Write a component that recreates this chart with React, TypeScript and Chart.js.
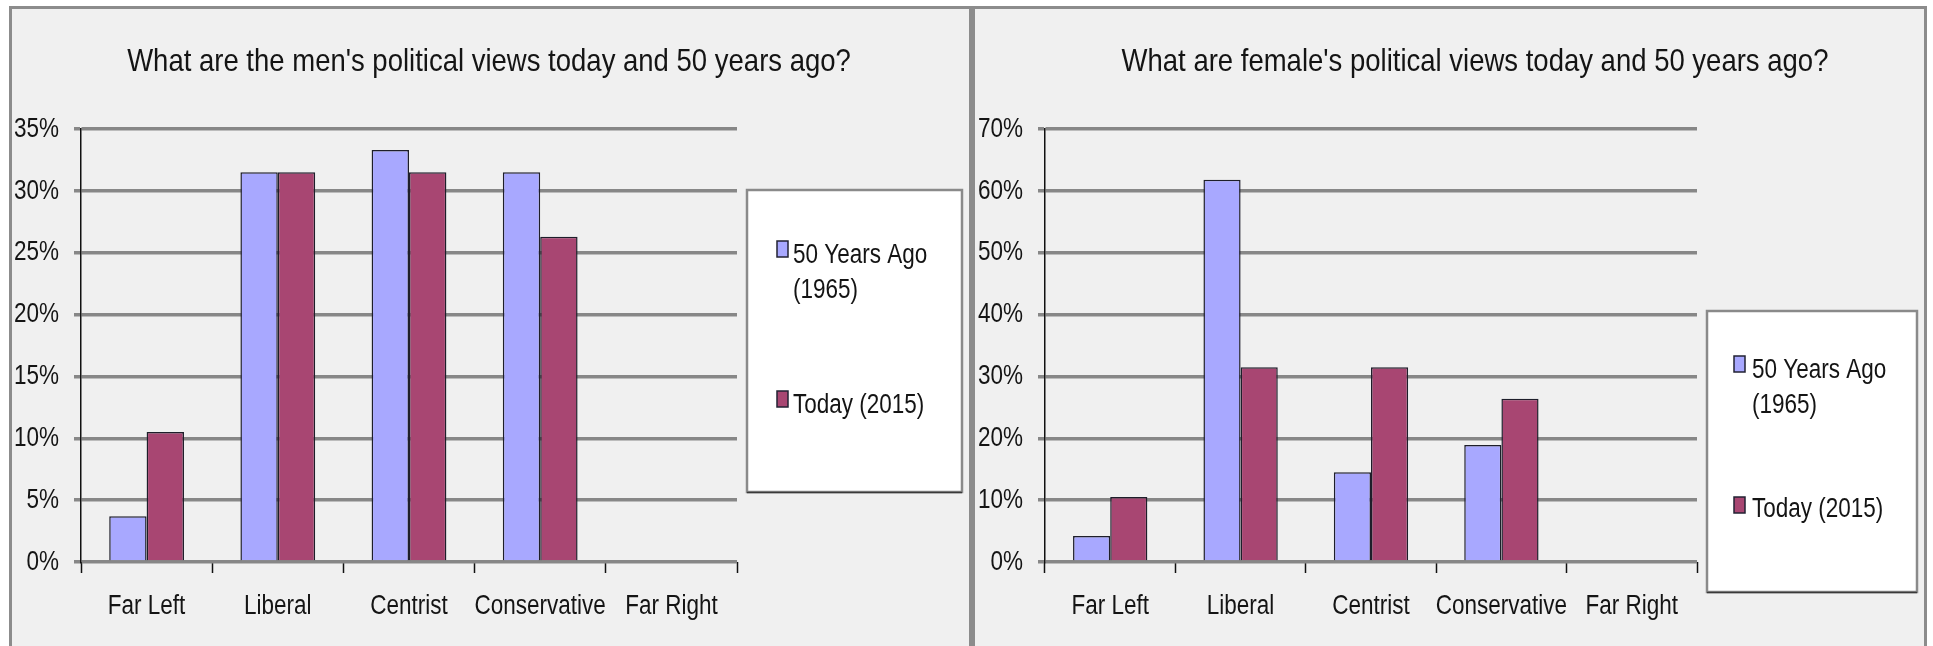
import React, { useEffect, useRef } from 'react';
import { Chart, registerables } from 'chart.js';

Chart.register(...registerables);

// ---------- data ----------
const categories = ['Far Left', 'Liberal', 'Centrist', 'Conservative', 'Far Right'];
const seriesPastLines = ['50 Years Ago', '(1965)'];
const seriesTodayLines = ['Today (2015)'];
const menPast = [3.7, 31.5, 33.3, 31.5, 0];
const menToday = [10.5, 31.5, 31.5, 26.3, 0];
const womenPast = [4.2, 61.8, 14.5, 18.9, 0];
const womenToday = [10.5, 31.5, 31.5, 26.4, 0];
const menTitle = "What are the men's political views today and 50 years ago?";
const womenTitle = "What are female's political views today and 50 years ago?";
const menAxisMax = 35;
const menAxisStep = 5;
const womenAxisMax = 70;
const womenAxisStep = 10;

// ---------- styles ----------
const FONT = '"Liberation Sans", Arial, Helvetica, sans-serif';
const PAST_COLOR = '#a8a8ff';
const TODAY_COLOR = '#a84672';
const BAR_BORDER = '#1e1e2a';
const GRID_COLOR = '#878787';
const TEXT_COLOR = '#141414';
const TEXT_STRETCH = 1.25; // glyphs in the source are taller than they are wide
const TITLE_STRETCH = 1.15;

type LegendLayout = {
  box: [number, number, number, number];
  markerX: number;
  textX: number;
  items: { markerY: number; baselines: number[] }[];
};

function stretchedText(
  ctx: CanvasRenderingContext2D,
  text: string,
  x: number,
  y: number,
  k: number
) {
  ctx.save();
  ctx.translate(x, y);
  ctx.scale(1, k);
  ctx.fillText(text, 0, 0);
  ctx.restore();
}

const decorPlugin = {
  id: 'panelDecor',
  afterDraw(chart: any, _args: any, opts: any) {
    const ctx: CanvasRenderingContext2D = chart.ctx;
    ctx.save();
    ctx.fillStyle = TEXT_COLOR;

    // axis labels, positioned by the chart's own scales
    const xs = chart.scales.x;
    const ys = chart.scales.y;
    ctx.font = `${opts.tickSize}px ${FONT}`;
    ctx.textAlign = 'center';
    ctx.textBaseline = 'middle';
    xs.ticks.forEach((t: any, i: number) => {
      const label = chart.data.labels[t.value ?? i];
      stretchedText(ctx, String(label), xs.getPixelForTick(i), opts.xLabelY, TEXT_STRETCH);
    });
    ctx.textAlign = 'right';
    ys.ticks.forEach((t: any) => {
      stretchedText(
        ctx,
        `${t.value}%`,
        chart.chartArea.left - opts.yLabelGap,
        ys.getPixelForValue(t.value),
        TEXT_STRETCH
      );
    });

    // title
    ctx.font = `${opts.titleSize}px ${FONT}`;
    ctx.textAlign = 'center';
    ctx.textBaseline = 'alphabetic';
    stretchedText(ctx, opts.title, opts.titleX, opts.titleY, TITLE_STRETCH);

    // legend box
    const lg: LegendLayout = opts.legend;
    const [bx, by, bw, bh] = lg.box;
    ctx.fillStyle = '#ffffff';
    ctx.fillRect(bx, by, bw, bh);
    ctx.strokeStyle = '#8a8a8a';
    ctx.lineWidth = 2.5;
    ctx.strokeRect(bx, by, bw, bh);
    ctx.strokeStyle = '#3a3a3a';
    ctx.lineWidth = 1.5;
    ctx.beginPath();
    ctx.moveTo(bx, by + bh + 0.5);
    ctx.lineTo(bx + bw, by + bh + 0.5);
    ctx.stroke();

    ctx.font = `${opts.legendSize}px ${FONT}`;
    ctx.textAlign = 'left';
    chart.data.datasets.forEach((ds: any, i: number) => {
      const it = lg.items[i];
      ctx.fillStyle = ds.backgroundColor;
      ctx.fillRect(lg.markerX, it.markerY, 11, 16);
      ctx.strokeStyle = '#222233';
      ctx.lineWidth = 1.5;
      ctx.strokeRect(lg.markerX, it.markerY, 11, 16);
      ctx.fillStyle = TEXT_COLOR;
      const lines: string[] = opts.lines[i];
      lines.forEach((ln, j) => stretchedText(ctx, ln, lg.textX, it.baselines[j], TEXT_STRETCH));
    });
    ctx.restore();
  },
};

function makeConfig(
  past: number[],
  today: number[],
  max: number,
  step: number,
  yWidth: number,
  rightPad: number,
  title: string,
  titleX: number,
  legend: LegendLayout
): any {
  return {
    type: 'bar',
    data: {
      labels: categories,
      datasets: [
        {
          label: seriesPastLines.join(' '),
          data: past,
          backgroundColor: PAST_COLOR,
          borderColor: BAR_BORDER,
          borderWidth: 1.5,
          categoryPercentage: 0.57,
          barPercentage: 1.0,
        },
        {
          label: seriesTodayLines.join(' '),
          data: today,
          backgroundColor: TODAY_COLOR,
          borderColor: BAR_BORDER,
          borderWidth: 1.5,
          categoryPercentage: 0.57,
          barPercentage: 1.0,
        },
      ],
    },
    options: {
      responsive: false,
      animation: false,
      devicePixelRatio: 1,
      layout: { padding: { top: 120, left: 0, right: rightPad, bottom: 0 } },
      plugins: {
        legend: { display: false },
        title: { display: false },
        tooltip: { enabled: false },
        panelDecor: {
          title,
          titleX,
          titleY: 62,
          titleSize: 27.5,
          legendSize: 22.5,
          tickSize: 22.5,
          xLabelY: 597,
          yLabelGap: 22,
          legend,
          lines: [seriesPastLines, seriesTodayLines],
        },
      },
      scales: {
        x: {
          offset: true,
          border: { display: false },
          grid: {
            offset: true,
            drawOnChartArea: false,
            drawTicks: true,
            tickLength: 11,
            tickColor: '#111',
            tickWidth: 1.5,
          },
          ticks: {
            color: 'rgba(0,0,0,0)',
            font: { family: FONT, size: 22.5 },
            padding: 17,
            maxRotation: 0,
            autoSkip: false,
          },
          afterFit: (s: any) => {
            s.height = 84;
          },
        },
        y: {
          min: 0,
          max,
          border: { display: true, color: '#111', width: 1.5 },
          grid: {
            color: GRID_COLOR,
            lineWidth: 3.5,
            drawTicks: true,
            tickLength: 7,
            tickColor: GRID_COLOR,
            tickWidth: 3.5,
          },
          ticks: {
            stepSize: step,
            color: 'rgba(0,0,0,0)',
            font: { family: FONT, size: 22 },
            padding: 15,
            callback: (v: any) => `${v}%`,
          },
          afterFit: (s: any) => {
            s.width = yWidth;
          },
        },
      },
    },
    plugins: [decorPlugin],
  };
}

export default function App() {
  const leftRef = useRef<HTMLCanvasElement | null>(null);
  const rightRef = useRef<HTMLCanvasElement | null>(null);

  useEffect(() => {
    const left = new Chart(
      leftRef.current as HTMLCanvasElement,
      makeConfig(menPast, menToday, menAxisMax, menAxisStep, 69, 232, menTitle, 477, {
        box: [735, 181, 215, 302],
        markerX: 765,
        textX: 781,
        items: [
          { markerY: 232, baselines: [254, 289] },
          { markerY: 382, baselines: [404] },
        ],
      })
    );
    const right = new Chart(
      rightRef.current as HTMLCanvasElement,
      makeConfig(womenPast, womenToday, womenAxisMax, womenAxisStep, 70, 227, womenTitle, 500, {
        box: [732, 302, 210, 281],
        markerX: 759,
        textX: 777,
        items: [
          { markerY: 347, baselines: [369, 404] },
          { markerY: 488, baselines: [508] },
        ],
      })
    );
    return () => {
      left.destroy();
      right.destroy();
    };
  }, []);

  const panel = (l: number, w: number): React.CSSProperties => ({
    position: 'absolute',
    left: l,
    top: 6,
    width: w,
    height: 670,
    boxSizing: 'border-box',
    border: '3px solid #8c8c8c',
    background: '#f0f0f0',
  });

  return (
    <div
      style={{
        position: 'absolute',
        left: 0,
        top: 0,
        width: 1933,
        height: 646,
        overflow: 'hidden',
        background: '#ffffff',
      }}
    >
      <div style={panel(9, 963)} />
      <div style={panel(972, 955)} />
      <canvas
        ref={leftRef}
        width={957}
        height={637}
        style={{ position: 'absolute', left: 12, top: 9, width: 957, height: 637 }}
      />
      <canvas
        ref={rightRef}
        width={949}
        height={637}
        style={{ position: 'absolute', left: 975, top: 9, width: 949, height: 637 }}
      />
    </div>
  );
}
